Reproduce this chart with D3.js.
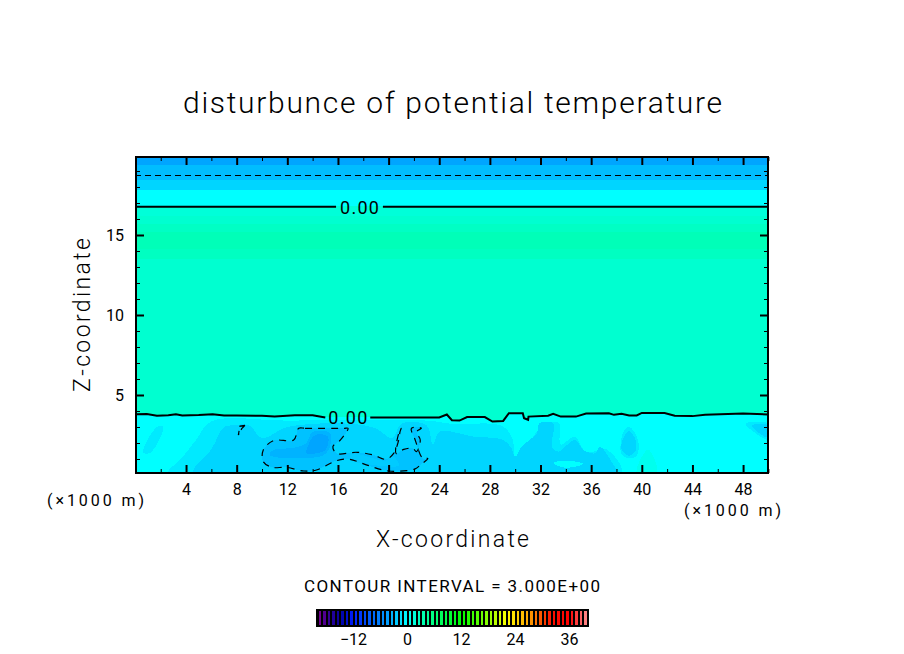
<!DOCTYPE html>
<html><head><meta charset="utf-8">
<script src="https://cdn.jsdelivr.net/npm/d3@7"></script>
<style>
html,body{margin:0;background:#fff}
text{font-family:"Roboto","DejaVu Sans",sans-serif;font-weight:400;fill:#000;stroke:none}
</style></head><body><svg id="c" width="904" height="654"></svg>
<script>
const titleText="disturbunce of potential temperature";
const xLabel="X-coordinate", zLabel="Z-coordinate", unitLabel="(×1000 m)", intervalLabel="CONTOUR INTERVAL = 3.000E+00", contourLabel="0.00";
const xMajor=[4,8,12,16,20,24,28,32,36,40,44,48];
const xMinor=[2,6,10,14,18,22,26,30,34,38,42,46,50];
const zMajor=[5,10,15];
const zMinor=[1,2,3,4,6,7,8,9,11,12,13,14,16,17,18,19];
const legendTicks=[-12,0,12,24,36];
const colorStops=[-20,-18,-15,-12,-4,-2,0,3,12,18,22,27,32,36,38,40];
const colorValues=["#800090","#400090","#0000a0","#0020ff","#00a5ff","#00d5ff","#00ffff","#00ffb8","#00ff00","#90ff00","#ffff00","#ffa000","#ff1000","#ff0000","#ff5050","#ff9090"];
// horizontal layers of the upper part: [top z, bottom z, level]
const layers=[[19.875,19.38,-4],[19.38,18.42,-3],[18.42,17.8,-2],[17.8,16.8,0],[16.8,16.2,1.6],[16.2,15.7,2],[15.7,15.2,2.5],[15.2,14.1,3],[14.1,13.5,2.6],[13.5,0,2]];
const zeroLow=[[0,3.8],[0.9,3.81],[1.7,3.7],[2.6,3.74],[3.2,3.8],[3.7,3.72],[5,3.75],[6.1,3.8],[7,3.72],[8,3.72],[10,3.7],[11,3.66],[12.6,3.74],[14,3.74],[15,3.6],[18.6,3.6],[24,3.6],[24.6,3.78],[25,3.42],[25.6,3.4],[26.2,3.62],[27.6,3.62],[28.2,3.34],[29.05,3.38],[29.5,3.86],[30.6,3.86],[30.7,3.55],[31.02,3.45],[31.05,3.65],[32.6,3.7],[33,3.82],[33.6,3.65],[34.8,3.65],[35.6,3.84],[37.4,3.86],[37.8,3.76],[38.4,3.82],[39,3.72],[39.6,3.72],[40,3.88],[41.8,3.88],[42.6,3.7],[44,3.68],[45,3.76],[46.2,3.8],[48,3.84],[50,3.78]];
const zeroLowGap=[15,18.55];
const zeroHigh=[[0,16.77],[50,16.77]];
const zeroHighGap=[15.85,19.55];
const dashedTop=[[0,18.7],[50,18.7]];
const patchMinus1=[
 [[0.6,1.4],[1.7,3.0],[2.2,3.0],[1.2,1.4]],
 [[2.6,0.125],[3.6,1.0],[4.8,2.2],[6.0,3.35],[12,3.4],[23,3.4],[25,3.2],[29,3.05],[29.8,2.2],[30,1.0],[30.6,1.2],[31.8,2.8],[33.4,3.3],[33.6,1.9],[34.7,2.4],[35.5,1.5],[36.5,1.5],[37.2,1.6],[38.4,0.125]],
 [[38.4,1.3],[38.5,2.6],[39,3.0],[39.7,2.2],[39.6,1.2],[39,1.05]],
 [[48.2,3.2],[50,3.2],[50,2.2],[49.6,2.3]]];
const patchMinus2=[
 [[4.6,0.125],[6.0,1.6],[7.0,3.0],[7.6,3.1],[9.0,3.1],[10,2.3],[12,3.0],[17,3.2],[19,2.9],[20.3,2.3],[21,3.2],[23,3.1],[23.5,1.9],[24.05,2.71],[26.7,2.4],[29.05,2.19],[29.7,1.67],[30,1.15],[30.5,1.77],[31.7,2.6],[31.9,3.23],[33,3.23],[32.9,1.77],[33.4,1.46],[34.7,2.19],[35.4,1.56],[36.3,1.35],[36.7,1.77],[37.6,0.83],[38,0.125]],
 [[38.4,1.6],[38.6,2.4],[39,2.75],[39.5,2.2],[39.5,1.5],[39,1.2]],
 [[48.7,3.1],[50,3.1],[50,2.4],[49.7,2.4]]];
const patchCyan=[[[33,0.75],[34,0.9],[35.4,0.7],[34,0.45]]];
const patchPlus=[[[39.6,0.125],[40.5,1.6],[41.2,0.125]]];
const contourMinus3=[[12.9,2.92],[13.4,2.92],[14.5,2.92],[15.8,2.92],[16.5,2.92],[16.8,2.92],[16.2,2.19],[15.6,1.77],[15.9,1.35],[17.5,1.42],[18.8,1.25],[19.8,0.98],[20.4,1.35],[20.8,2.19],[20.9,2.7],[21.0,2.92],[20.8,2.6],[20.6,1.35],[21.2,1.6],[21.9,1.67],[22.2,1.46],[22.5,2.19],[22.2,2.7],[22.6,2.92],[21.8,2.92],[22.1,2.19],[22.7,1.04],[23.1,1.04],[22.5,0.62],[22.1,0.38],[20,0.25],[18.3,0.62],[16.9,0.98],[15.9,0.9],[14.3,0.31],[13.3,0.25],[11.9,0.48],[10.8,0.48],[10.1,0.83],[10.1,1.56],[10.9,2.15],[12.5,2.19]];
const contourSmall=[[8.66,3.1],[8.26,3.06],[8.13,2.5],[8.4,2.9],[8.66,3.1]];
const patchMinus35=[[[10.6,1.25],[13.5,1.05],[15.1,1.37],[15.4,2.6],[14,2.7],[13.5,2],[12.5,1.7],[10.9,1.56]]];
const patchMinus4=[[[13.5,1.37],[15,1.56],[15.2,2.4],[14.2,2.5],[13.6,1.75]]];
const patchMinus25=[[[17,1.35],[19.8,0.9],[20.3,1.2],[20.8,0.6],[19,0.6],[17,0.95]]];

const svg=d3.select("#c");
const pL=136,pR=768,pT=157,pB=473;
const x=d3.scaleLinear().domain([0,50]).range([135.4,768.4]);
const y=d3.scaleLinear().domain([0,5]).range([475,395]);
const color=d3.scaleLinear().domain(colorStops).range(colorValues).interpolate(d3.interpolateRgb);
svg.append("defs").append("clipPath").attr("id","p").append("rect").attr("x",pL).attr("y",pT).attr("width",pR-pL).attr("height",pB-pT);
const plot=svg.append("g").attr("clip-path","url(#p)").attr("shape-rendering","crispEdges");
plot.selectAll("rect.l").data(layers).join("rect").attr("class","l")
 .attr("x",pL).attr("width",pR-pL)
 .attr("y",d=>y(d[0])).attr("height",d=>y(d[1])-y(d[0])).attr("fill",d=>color(d[2]));
const area=d3.area().x(d=>x(d[0])).y1(d=>y(d[1])).y0(y(0));
plot.append("path").datum(zeroLow).attr("d",area).attr("fill",color(0));
const poly=d3.line().x(d=>x(d[0])).y(d=>y(d[1]));
const smooth=d3.line().x(d=>x(d[0])).y(d=>y(d[1])).curve(d3.curveCatmullRomClosed.alpha(0.5));
function patches(list,level){plot.append("g").selectAll("path").data(list).join("path").attr("d",smooth).attr("fill",color(level));}
patches(patchMinus1,-1);patches(patchMinus2,-2);patches(patchCyan,0);patches(patchPlus,0.7);
plot.append("path").datum(contourMinus3).attr("d",smooth).attr("fill",color(-2.8));
patches(patchMinus25,-2.4);patches(patchMinus35,-3.4);patches(patchMinus4,-4);
const lines=svg.append("g").attr("clip-path","url(#p)").attr("fill","none").attr("stroke","#000");
function gapLine(pts,gap){
 const a=pts.filter(p=>p[0]<=gap[0]),b=pts.filter(p=>p[0]>=gap[1]);
 const f=t=>{const i=d3.bisector(p=>p[0]).left(pts,t);if(i===0)return pts[0][1];const p=pts[i-1],q=pts[i];return p[1]+(q[1]-p[1])*(t-p[0])/(q[0]-p[0]);};
 a.push([gap[0],f(gap[0])]);b.unshift([gap[1],f(gap[1])]);
 [a,b].forEach(s=>lines.append("path").datum(s).attr("d",poly).attr("stroke-width",2));
}
gapLine(zeroLow,zeroLowGap);
gapLine(zeroHigh,zeroHighGap);
lines.append("path").datum(dashedTop).attr("d",poly).attr("stroke-width",1).attr("stroke-dasharray","6,4").attr("shape-rendering","crispEdges");
lines.append("path").datum(contourSmall).attr("d",poly).attr("stroke-width",1.2).attr("stroke-dasharray","6,4");
lines.append("path").datum(contourMinus3).attr("d",smooth).attr("stroke-width",1.2).attr("stroke-dasharray","7,6");
svg.append("text").attr("x",x(d3.mean(zeroLowGap))).attr("y",y(3.6)+7).attr("text-anchor","middle").attr("font-size",18).attr("textLength",39).attr("lengthAdjust","spacing").text(contourLabel);
svg.append("text").attr("x",x(d3.mean(zeroHighGap))).attr("y",y(16.77)+7).attr("text-anchor","middle").attr("font-size",18).attr("textLength",39).attr("lengthAdjust","spacing").text(contourLabel);

// axes
function strip(g){g.select(".domain").remove();g.selectAll("line").attr("stroke","#000");}
const gx=svg.append("g").attr("transform",`translate(0,${pB})`);
gx.call(d3.axisBottom(x).tickValues(xMajor).tickSize(-8).tickPadding(11).tickFormat(d3.format("d"))).call(strip);
gx.selectAll("line").attr("stroke-width",2);
gx.selectAll("text").attr("font-size",16).attr("fill","#000");
svg.append("g").attr("transform",`translate(0,${pB})`).call(d3.axisBottom(x).tickValues(xMinor).tickSize(-4).tickFormat("")).call(strip);
const gt=svg.append("g").attr("transform",`translate(0,${pT})`);
gt.call(d3.axisTop(x).tickValues(xMajor).tickSize(-8).tickFormat("")).call(strip);gt.selectAll("line").attr("stroke-width",2);
svg.append("g").attr("transform",`translate(0,${pT})`).call(d3.axisTop(x).tickValues(xMinor).tickSize(-4).tickFormat("")).call(strip);
const gy=svg.append("g").attr("transform",`translate(${pL},0)`);
gy.call(d3.axisLeft(y).tickValues(zMajor).tickSize(-8).tickPadding(12).tickFormat(d3.format("d"))).call(strip);
gy.selectAll("line").attr("stroke-width",2);gy.selectAll("text").attr("font-size",16).attr("fill","#000");
svg.append("g").attr("transform",`translate(${pL},0)`).call(d3.axisLeft(y).tickValues(zMinor).tickSize(-4).tickFormat("")).call(strip);
const gr=svg.append("g").attr("transform",`translate(${pR},0)`);
gr.call(d3.axisRight(y).tickValues(zMajor).tickSize(-8).tickFormat("")).call(strip);gr.selectAll("line").attr("stroke-width",2);
svg.append("g").attr("transform",`translate(${pR},0)`).call(d3.axisRight(y).tickValues(zMinor).tickSize(-4).tickFormat("")).call(strip);
svg.append("rect").attr("x",pL).attr("y",pT).attr("width",pR-pL).attr("height",pB-pT).attr("fill","none").attr("stroke","#000").attr("stroke-width",2);

function label(t,px,py,size,len,rot){
 const e=svg.append("text").attr("text-anchor","middle").attr("font-size",size).attr("textLength",len).attr("lengthAdjust","spacing").text(t);
 e.attr("transform",`translate(${px},${py})`+(rot?` rotate(${rot})`:""));
 return e;
}
label(titleText,452.5,113,30,539).style("font-weight",300);
label(xLabel,452.5,547,23,153).style("font-weight",300);
label(zLabel,90,315,23,154,-90).style("font-weight",300);
label(unitLabel,95.5,506,16,97);
label(unitLabel,732.5,516,16,97);
label(intervalLabel,452,592,17,296);

// colour bar
const lx=d3.scaleLinear().domain([-12,36]).range([353,569]);
const cells=d3.range(-20,40);
const lg=svg.append("g").attr("shape-rendering","crispEdges");
lg.append("rect").attr("x",lx(-20)-1).attr("y",609).attr("width",lx(40)-lx(-20)+3).attr("height",18).attr("fill","#000");
lg.selectAll("rect.c").data(cells).join("rect").attr("class","c")
 .attr("x",d=>lx(d)+1.5).attr("width",Math.max(lx(1)-lx(0)-2,1)).attr("y",611).attr("height",14).attr("fill",d=>color(d+0.5));
const gl=svg.append("g").attr("transform","translate(0,627)");
gl.call(d3.axisBottom(lx).tickValues(legendTicks).tickSize(0).tickPadding(7).tickFormat(d3.format("d"))).call(strip);
gl.selectAll("text").attr("font-size",16).attr("fill","#000");
</script></body></html>
